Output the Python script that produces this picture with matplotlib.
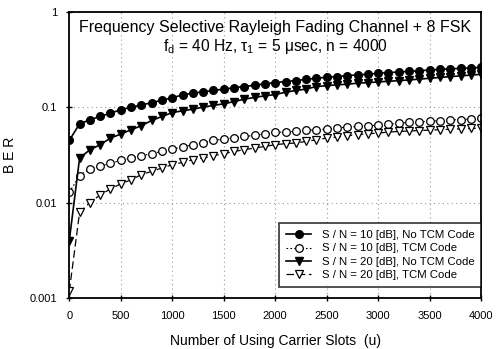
import matplotlib
matplotlib.use("Agg")
import matplotlib.pyplot as plt
from matplotlib.ticker import FixedLocator, FixedFormatter, NullLocator

plt.rcParams["font.family"] = ["Liberation Sans", "DejaVu Sans"]

# carrier slots u = 0, 100, ..., 4000
slots = list(range(0, 4001, 100))

snr10_no_tcm = [0.0447, 0.0667, 0.0735, 0.0796, 0.0863, 0.0935, 0.0998, 0.105, 0.111, 0.118,
                0.125, 0.134, 0.140, 0.144, 0.149, 0.154, 0.159, 0.164, 0.169, 0.175,
                0.180, 0.185, 0.189, 0.195, 0.200, 0.205, 0.208, 0.213, 0.217, 0.220,
                0.226, 0.229, 0.233, 0.236, 0.240, 0.244, 0.248, 0.251, 0.254, 0.257, 0.260]
snr10_tcm = [0.0128, 0.0191, 0.0226, 0.0240, 0.0258, 0.0277, 0.0292, 0.0309, 0.0325, 0.0343,
             0.0364, 0.0381, 0.0403, 0.0420, 0.0447, 0.0462, 0.0477, 0.0492, 0.0504, 0.0525,
             0.0542, 0.0550, 0.0555, 0.0569, 0.0578, 0.0587, 0.0602, 0.0617, 0.0626, 0.0637,
             0.0647, 0.0657, 0.0678, 0.069, 0.070, 0.071, 0.072, 0.073, 0.074, 0.075, 0.076]
snr20_no_tcm = [0.0040, 0.0292, 0.0357, 0.0403, 0.0473, 0.0521, 0.0578, 0.0637, 0.0723, 0.0796,
                0.0875, 0.0912, 0.095, 0.0998, 0.104, 0.108, 0.114, 0.121, 0.126, 0.131,
                0.135, 0.143, 0.149, 0.154, 0.164, 0.167, 0.171, 0.173, 0.178, 0.180,
                0.183, 0.186, 0.189, 0.192, 0.196, 0.200, 0.204, 0.208, 0.212, 0.216, 0.220]
snr20_tcm = [0.00118, 0.0079, 0.0100, 0.0120, 0.0139, 0.0157, 0.0173, 0.0196, 0.0212, 0.0230,
             0.0249, 0.0263, 0.0281, 0.0292, 0.0309, 0.0325, 0.0343, 0.0357, 0.0372, 0.0387,
             0.0403, 0.0414, 0.0420, 0.0436, 0.0454, 0.0473, 0.0484, 0.0500, 0.0513, 0.0525,
             0.0533, 0.0547, 0.0555, 0.0561, 0.0567, 0.0573, 0.0579, 0.0585, 0.0591, 0.0596, 0.0601]

y_ticks = [0.001, 0.01, 0.1, 1]
y_tick_labels = ["0.001", "0.01", "0.1", "1"]
x_ticks = list(range(0, 4001, 500))

fig = plt.figure(figsize=(4.96, 3.49), dpi=100)
ax = fig.add_axes([0.1397, 0.146, 0.8303, 0.821])

ax.plot(slots, snr10_no_tcm, color="black", lw=1.2, marker="o", ms=5.5,
        mfc="black", mec="black", label="S / N = 10 [dB], No TCM Code")
ax.plot(slots, snr10_tcm, color="black", lw=0.8, ls=(0, (1.5, 2)), marker="o", ms=5.5,
        mfc="white", mec="black", mew=0.9, label="S / N = 10 [dB], TCM Code")
ax.plot(slots, snr20_no_tcm, color="black", lw=1.2, marker="v", ms=6,
        mfc="black", mec="black", label="S / N = 20 [dB], No TCM Code")
ax.plot(slots, snr20_tcm, color="black", lw=0.9, ls=(0, (6, 3)), marker="v", ms=6,
        mfc="white", mec="black", mew=0.9, label="S / N = 20 [dB], TCM Code")

ax.set_yscale("log")
ax.set_ylim(0.001, 1)
ax.set_xlim(0, 4000)
ax.yaxis.set_major_locator(FixedLocator(y_ticks))
ax.yaxis.set_major_formatter(FixedFormatter(y_tick_labels))
ax.yaxis.set_minor_locator(NullLocator())
ax.set_xticks(x_ticks)
ax.tick_params(axis="both", direction="inout", length=5, width=1, labelsize=8, colors="black")
ax.tick_params(axis="x", pad=7)
ax.tick_params(axis="y", pad=6)

ax.grid(True, which="major", color="#999999", ls=(0, (1, 3)), lw=0.8)
for s in ax.spines.values():
    s.set_linewidth(1.3)

ax.set_xlabel("Number of Using Carrier Slots  (u)", fontsize=10, labelpad=9)
ax.set_ylabel("B E R", fontsize=10)
ax.yaxis.set_label_coords(-0.128, 0.5)

ax.text(0.5, 0.972, "Frequency Selective Rayleigh Fading Channel + 8 FSK",
        transform=ax.transAxes, ha="center", va="top", fontsize=11.5)
ax.text(0.5, 0.912, r"f$_\mathregular{d}$ = 40 Hz, $\mathregular{\tau}$$_\mathregular{1}$ = 5 $\mathregular{\mu}$sec, n = 4000",
        transform=ax.transAxes, ha="center", va="top", fontsize=11.2)

leg = ax.legend(loc="lower right", bbox_to_anchor=(1.0, 0.038), borderaxespad=0,
                fontsize=8.2, frameon=True, fancybox=False, edgecolor="black",
                handlelength=2.2, labelspacing=0.3, borderpad=0.6, handletextpad=0.9)
leg.get_frame().set_linewidth(1.2)

fig.savefig("out.png", dpi=100)
